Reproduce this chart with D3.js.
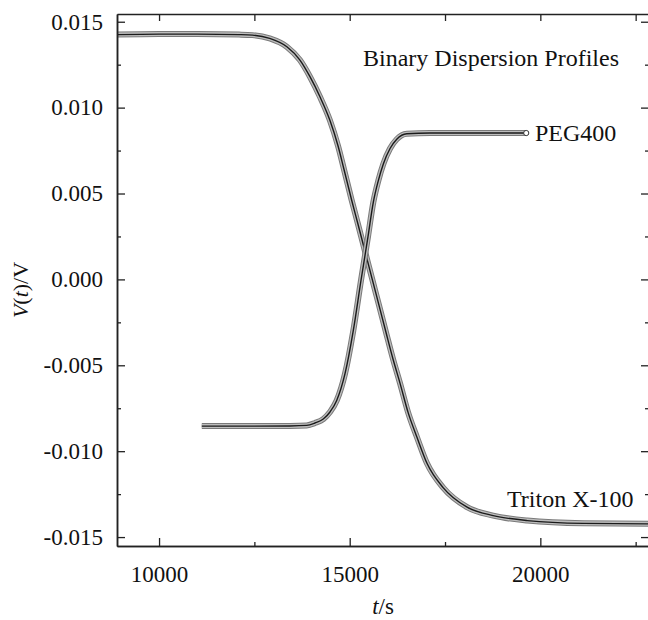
<!DOCTYPE html>
<html>
<head>
<meta charset="utf-8">
<script src="https://cdn.jsdelivr.net/npm/d3@7"></script>
<style>
  body { margin: 0; background: #fff; }
  text { font-family: "Liberation Serif", "Times New Roman", serif; fill: #111; }
</style>
</head>
<body>
<svg id="chart"></svg>
<script>
// Triton X-100 profile (time in s, voltage in V)
const tritonT = [8889, 10000, 11000, 12100, 12450, 12900, 13353, 13695, 13958, 14220, 14483, 14693,
  14851, 15052, 15218, 15401, 15585, 15769, 15953, 16145, 16321, 16531, 16767, 17030, 17450, 18080,
  18763, 19656, 21127, 22850];
const tritonV = [0.01425, 0.01428, 0.01428, 0.01425, 0.01422, 0.01403, 0.01354, 0.01277, 0.01180, 0.01063,
  0.00925, 0.00778, 0.00640, 0.00461, 0.00321, 0.00164, 0.00006, -0.00151, -0.00309, -0.00471, -0.00605,
  -0.00774, -0.00920, -0.01072, -0.01212, -0.01326, -0.01375, -0.01404, -0.01420, -0.01423];

// PEG400 profile
const pegT = [11121, 12382, 13432, 13871, 14089, 14307, 14483, 14659, 14877, 15095, 15297, 15481, 15620,
  15751, 15882, 16058, 16234, 16497, 17109, 18422, 19630];
const pegV = [-0.00854, -0.00854, -0.00853, -0.00850, -0.00836, -0.00813, -0.00772, -0.00705, -0.00549,
  -0.00297, -0.00005, 0.00250, 0.00450, 0.00575, 0.00672, 0.00762, 0.00816, 0.00848, 0.00852, 0.00852, 0.00852];

const xMajor = [10000, 15000, 20000];
const xMinor = [12500, 17500, 22500];
const yMajor = [-0.015, -0.010, -0.005, 0.000, 0.005, 0.010, 0.015];
const yMinor = [-0.0125, -0.0075, -0.0025, 0.0025, 0.0075, 0.0125];

const width = 648, height = 620;
const margin = { top: 14, right: -1, bottom: 74, left: 117 };
const iw = width - margin.left - margin.right;
const ih = height - margin.top - margin.bottom;

const svg = d3.select("#chart")
    .attr("width", width)
    .attr("height", height);

const g = svg.append("g")
    .attr("transform", `translate(${margin.left},${margin.top})`);

const x = d3.scaleLinear().domain([8897, 22850]).range([0, iw]);
const y = d3.scaleLinear().domain([-0.01552, 0.01545]).range([ih, 0]);

// clip for the curves
g.append("clipPath").attr("id", "plotclip")
  .append("rect").attr("width", iw).attr("height", ih);

// Curves: a grey band of markers with a dark core
const line = d3.line()
    .x(d => x(d[0]))
    .y(d => y(d[1]))
    .curve(d3.curveMonotoneX);

const series = [
  d3.zip(tritonT, tritonV),
  d3.zip(pegT, pegV)
];

const curves = g.append("g").attr("clip-path", "url(#plotclip)");
series.forEach(s => {
  curves.append("path").attr("d", line(s)).attr("fill", "none")
      .attr("stroke", "#7a7a7a").attr("stroke-width", 6);
  curves.append("path").attr("d", line(s)).attr("fill", "none")
      .attr("stroke", "#bdbdbd").attr("stroke-width", 4);
  curves.append("path").attr("d", line(s)).attr("fill", "none")
      .attr("stroke", "#1a1a1a").attr("stroke-width", 1.4);
});
// end marker of PEG400
curves.append("circle")
    .attr("cx", x(pegT[pegT.length - 1]))
    .attr("cy", y(pegV[pegV.length - 1]))
    .attr("r", 2.6).attr("fill", "#fff").attr("stroke", "#333").attr("stroke-width", 1);

// Axes, ticks pointing inward
function styleAxis(sel) {
  sel.attr("font-family", null);
  sel.select(".domain").attr("stroke", "#222").attr("stroke-width", 1.5);
  sel.selectAll(".tick line").attr("stroke", "#222").attr("stroke-width", 1.3);
  sel.selectAll("text").attr("font-size", 23).attr("fill", "#111");
}

const fmtY = v => d3.format(".3f")(v).replace("\u2212", "-");

g.append("g").attr("transform", `translate(0,${ih})`)
  .call(d3.axisBottom(x).tickValues(xMajor).tickSize(-8).tickSizeOuter(0).tickPadding(20).tickFormat(d3.format("d")))
  .call(styleAxis);
g.append("g").attr("transform", `translate(0,${ih})`)
  .call(d3.axisBottom(x).tickValues(xMinor).tickSize(-4).tickSizeOuter(0).tickFormat(""))
  .call(styleAxis);

g.append("g")
  .call(d3.axisTop(x).tickValues(xMajor.concat(xMinor)).tickSize(-7).tickSizeOuter(0).tickFormat(""))
  .call(styleAxis);

g.append("g")
  .call(d3.axisLeft(y).tickValues(yMajor).tickSize(-8).tickSizeOuter(0).tickPadding(14).tickFormat(fmtY))
  .call(styleAxis);
g.append("g")
  .call(d3.axisLeft(y).tickValues(yMinor).tickSize(-4).tickSizeOuter(0).tickFormat(""))
  .call(styleAxis);

g.append("g").attr("transform", `translate(${iw},0)`)
  .call(d3.axisRight(y).tickValues(yMajor).tickSize(-8).tickSizeOuter(0).tickFormat(""))
  .call(styleAxis);
g.append("g").attr("transform", `translate(${iw},0)`)
  .call(d3.axisRight(y).tickValues(yMinor).tickSize(-4).tickSizeOuter(0).tickFormat(""))
  .call(styleAxis);

// Axis titles
const xt = svg.append("text")
    .attr("x", 383).attr("y", 614)
    .attr("text-anchor", "middle").attr("font-size", 23);
xt.append("tspan").attr("font-style", "italic").text("t");
xt.append("tspan").text("/s");

const yt = svg.append("text")
    .attr("transform", "translate(28,290) rotate(-90)")
    .attr("text-anchor", "middle").attr("font-size", 22);
yt.append("tspan").attr("font-style", "italic").text("V");
yt.append("tspan").text("(");
yt.append("tspan").attr("font-style", "italic").text("t");
yt.append("tspan").text(")/V");

// Annotations
svg.append("text").attr("x", 363).attr("y", 66).attr("font-size", 24)
    .text("Binary Dispersion Profiles");
svg.append("text").attr("x", 535).attr("y", 141).attr("font-size", 24)
    .text("PEG400");
svg.append("text").attr("x", 507).attr("y", 507).attr("font-size", 24)
    .text("Triton X-100");
</script>
</body>
</html>
